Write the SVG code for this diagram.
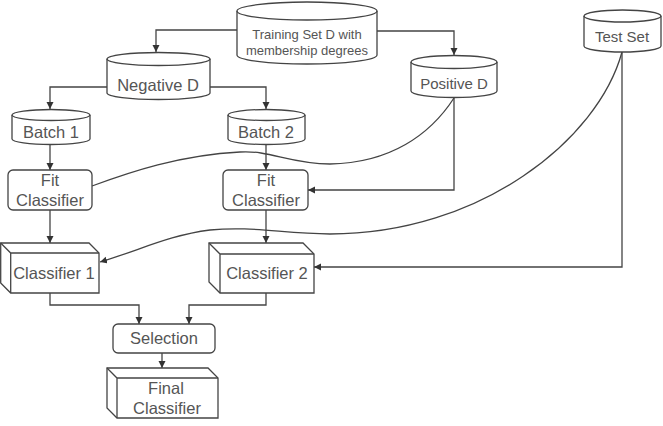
<svg xmlns="http://www.w3.org/2000/svg" width="663" height="426" viewBox="0 0 663 426">
<style>
.s{fill:#fff;stroke:#444;stroke-width:1.3}
.l{fill:none;stroke:#444;stroke-width:1.3}
.c{fill:none;stroke:#444;stroke-width:1.3}
text{font-family:"Liberation Sans",Arial,sans-serif;fill:#555;text-anchor:middle}
.t{font-size:16.5px}
.m{font-size:15px}
.k{font-size:13px}
</style>
<defs>
<marker id="a" markerWidth="8" markerHeight="8" refX="7" refY="3.5" orient="auto" markerUnits="userSpaceOnUse">
<path d="M0,0 L7,3.5 L0,7 Z" fill="#333"/>
</marker>
</defs>
<rect width="663" height="426" fill="#fff"/>
<g id="connectors">
<path class="l" d="M237 30 H156 V52" marker-end="url(#a)"/>
<path class="l" d="M377 31 H454 V55" marker-end="url(#a)"/>
<path class="l" d="M107 87 H50 V109" marker-end="url(#a)"/>
<path class="l" d="M210 87 H266 V109" marker-end="url(#a)"/>
<path class="l" d="M50 145 V170" marker-end="url(#a)"/>
<path class="l" d="M266 145 V170" marker-end="url(#a)"/>
<path class="l" d="M454 98 V190 H308" marker-end="url(#a)"/>
<path class="c" d="M454 98 C430 135 390 163 330 164 C290 164 270 150 240 152 C180 155 130 172 92 186"/>
<path class="l" d="M50 210 V243" marker-end="url(#a)"/>
<path class="l" d="M266 210 V243" marker-end="url(#a)"/>
<path class="c" d="M622 52 C598 140 480 234 330 234 C280 233 250 226 210 230 C170 235 140 250 100 262" marker-end="url(#a)"/>
<path class="l" d="M622 52 V267 H314" marker-end="url(#a)"/>
<path class="l" d="M50 293 V305 H139 V324" marker-end="url(#a)"/>
<path class="l" d="M266 293 V305 H189 V324" marker-end="url(#a)"/>
<path class="l" d="M162 353 V368" marker-end="url(#a)"/>
</g>
<g id="training">
<path class="s" d="M237 11 A70 9 0 0 1 377 11 V55 A70 9 0 0 1 237 55 Z"/>
<path class="l" d="M237 11 A70 9 0 0 0 377 11"/>
<text class="k" x="307" y="39">Training Set D with</text>
<text class="k" x="307" y="55">membership degrees</text>
</g>
<g id="negative">
<path class="s" d="M107 59 A51.5 6.5 0 0 1 210 59 V93 A51.5 6.5 0 0 1 107 93 Z"/>
<path class="l" d="M107 59 A51.5 6.5 0 0 0 210 59"/>
<text class="t" x="158" y="91">Negative D</text>
</g>
<g id="positive">
<path class="s" d="M411 62 A43 6.5 0 0 1 497 62 V91 A43 6.5 0 0 1 411 91 Z"/>
<path class="l" d="M411 62 A43 6.5 0 0 0 497 62"/>
<text class="m" x="454" y="89">Positive D</text>
</g>
<g id="testset">
<path class="s" d="M584 16 A38.5 6 0 0 1 661 16 V46 A38.5 6 0 0 1 584 46 Z"/>
<path class="l" d="M584 16 A38.5 6 0 0 0 661 16"/>
<text class="m" x="622" y="42">Test Set</text>
</g>
<g id="batch1">
<path class="s" d="M12 115 A39 5.5 0 0 1 90 115 V139 A39 5.5 0 0 1 12 139 Z"/>
<path class="l" d="M12 115 A39 5.5 0 0 0 90 115"/>
<text class="t" x="51" y="138">Batch 1</text>
</g>
<g id="batch2">
<path class="s" d="M228 115 A38.5 5.5 0 0 1 305 115 V139 A38.5 5.5 0 0 1 228 139 Z"/>
<path class="l" d="M228 115 A38.5 5.5 0 0 0 305 115"/>
<text class="t" x="266" y="138">Batch 2</text>
</g>
<g id="fit1">
<rect class="s" x="8" y="170" width="84" height="40" rx="5"/>
<text class="t" x="50" y="186">Fit</text>
<text class="t" x="50" y="206">Classifier</text>
</g>
<g id="fit2">
<rect class="s" x="223" y="170" width="85" height="40" rx="5"/>
<text class="t" x="266" y="186">Fit</text>
<text class="t" x="266" y="206">Classifier</text>
</g>
<g id="classifier1">
<path class="s" d="M0.7 243 H89 L99 253 V293 H10.7 L0.7 283 Z"/>
<path class="l" d="M0.7 243 L10.7 253 H99 M10.7 253 V293"/>
<text class="t" x="54" y="279">Classifier 1</text>
</g>
<g id="classifier2">
<path class="s" d="M209 243 H303 L314 254 V293 H220 L209 282 Z"/>
<path class="l" d="M209 243 L220 254 H314 M220 254 V293"/>
<text class="t" x="267" y="279">Classifier 2</text>
</g>
<g id="selection">
<rect class="s" x="113" y="324" width="102" height="29" rx="5"/>
<text class="t" x="164" y="344">Selection</text>
</g>
<g id="final">
<path class="s" d="M107 368 H208 L218 378 V418 H117 L107 408 Z"/>
<path class="l" d="M107 368 L117 378 H218 M117 378 V418"/>
<text class="t" x="166" y="394">Final</text>
<text class="t" x="167" y="414">Classifier</text>
</g>
</svg>
